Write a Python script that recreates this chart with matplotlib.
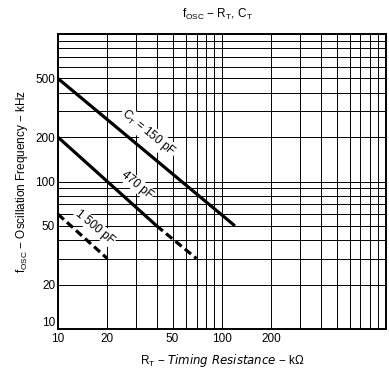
import matplotlib
matplotlib.use("Agg")
import matplotlib.pyplot as plt
from matplotlib.ticker import FixedLocator, NullFormatter

plt.rcParams["font.family"] = ["Liberation Sans", "DejaVu Sans"]

# Curvas f_OSC x R_T (kOhm, kHz)
r_150 = [10, 120]
f_150 = [500, 50]
r_470_cheia = [10, 40]
f_470_cheia = [200, 50]
r_470_trac = [40, 70]
f_470_trac = [50, 30]
r_1500 = [10, 20]
f_1500 = [60, 30]

ticks_x = [10, 20, 50, 100, 200]
ticks_y = [10, 20, 50, 100, 200, 500]

# rotulos das curvas: (texto, R, f)
rotulos = [("C$_\\mathregular{T}$ = 150 pF", 35.5, 213),
           ("470 pF", 30.3, 95),
           ("1 500 pF", 16.8, 49)]

fig = plt.figure(figsize=(3.89, 3.75), dpi=100)
ax = fig.add_axes([0.149, 0.123, 0.843, 0.786])
ax.set_xscale("log")
ax.set_yscale("log")
ax.set_xlim(10, 1000)
ax.set_ylim(10, 1000)

grade = [m * d for d in (10, 100) for m in range(1, 10)] + [1000]
ax.xaxis.set_major_locator(FixedLocator(ticks_x))
ax.yaxis.set_major_locator(FixedLocator(ticks_y))
ax.xaxis.set_minor_locator(FixedLocator([g for g in grade if g not in ticks_x]))
ax.yaxis.set_minor_locator(FixedLocator([g for g in grade if g not in ticks_y]))
ax.xaxis.set_minor_formatter(NullFormatter())
ax.yaxis.set_minor_formatter(NullFormatter())
ax.set_xticklabels([str(t) for t in ticks_x])
ax.set_yticklabels([str(t) for t in ticks_y])
ax.tick_params(which="both", length=0, labelsize=8.5, colors="black")
ax.tick_params(axis="x", pad=3)
ax.tick_params(axis="y", pad=2)
# o "10" do eixo y fica um pouco acima do canto, como no original
ax.get_yticklabels()[0].set_verticalalignment("bottom")
ax.grid(which="both", color="black", linewidth=0.7)

for lado in ax.spines.values():
    lado.set_linewidth(1.4)

ax.plot(r_150, f_150, color="black", linewidth=2.3, solid_capstyle="butt")
ax.plot(r_470_cheia, f_470_cheia, color="black", linewidth=2.3, solid_capstyle="butt")
ax.plot(r_470_trac, f_470_trac, color="black", linewidth=2.3, linestyle=(0, (2.5, 1.3)))
ax.plot(r_1500, f_1500, color="black", linewidth=2.3, linestyle=(0, (2.5, 1.3)))

for texto, r, f in rotulos:
    ax.text(r, f, texto, rotation=-39.5, rotation_mode="anchor", ha="center", va="center",
            fontsize=8.5, bbox=dict(boxstyle="square,pad=0.1", fc="white", ec="none"))

fig.text(0.56, 0.962, "f$_\\mathregular{OSC}$ \u2212 R$_\\mathregular{T}$, C$_\\mathregular{T}$",
         ha="center", va="center", fontsize=8.5)
ax.set_xlabel("R$_\\mathregular{T}$ \u2212 $\\it{Timing\\ Resistance}$ \u2212 k\u03a9",
              fontsize=8.5, labelpad=5)
ax.set_ylabel("f$_\\mathregular{OSC}$ \u2212 Oscillation Frequency \u2212 kHz", fontsize=8.5, labelpad=4)

fig.savefig("out.png", dpi=100)
